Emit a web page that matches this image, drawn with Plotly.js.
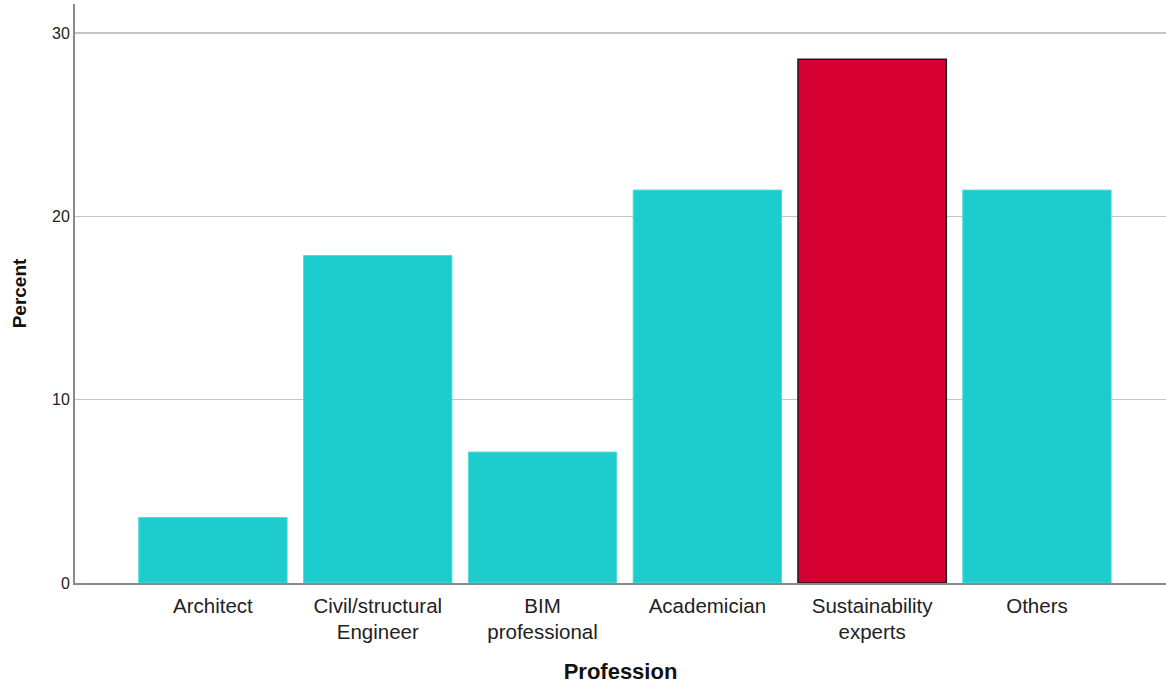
<!DOCTYPE html>
<html>
<head>
<meta charset="utf-8">
<script src="https://cdn.plot.ly/plotly-3.0.1.min.js"></script>
<style>html,body{margin:0;padding:0;background:#fff;}#chart{width:1166px;height:684px;}</style>
</head>
<body>
<div id="chart"></div>
<script>
const categories = ["Architect", "Civil/structural<br>Engineer", "BIM<br>professional", "Academician", "Sustainability<br>experts", "Others"];
const percents = [3.57, 17.86, 7.14, 21.43, 28.57, 21.43];
const barColors = ["#1DCDCD", "#1DCDCD", "#1DCDCD", "#1DCDCD", "#D70032", "#1DCDCD"];
const barEdges = ["#4FD9D9", "#4FD9D9", "#4FD9D9", "#4FD9D9", "#1a1a1a", "#4FD9D9"];
const barEdgeWidths = [1, 1, 1, 1, 1.5, 1];
const yTicks = [0, 10, 20, 30];

const trace = {
  type: "bar",
  x: categories.map((c, i) => i),
  y: percents,
  width: 0.9,
  marker: {color: barColors, line: {color: barEdges, width: barEdgeWidths}},
  hoverinfo: "skip"
};

const layout = {
  width: 1166, height: 684,
  margin: {l: 75, r: 0, t: 4, b: 101},
  paper_bgcolor: "#ffffff", plot_bgcolor: "#ffffff",
  font: {family: "Liberation Sans, Arial, sans-serif", color: "#222"},
  showlegend: false,
  bargap: 0.1,
  xaxis: {
    range: [-0.837, 5.783],
    tickmode: "array",
    tickvals: categories.map((c, i) => i),
    ticktext: categories,
    tickfont: {size: 20.5, color: "#222"},
    ticks: "",
    ticklabelstandoff: 3,
    showgrid: false,
    zeroline: false,
    showline: true, linecolor: "#8a8a8a", linewidth: 2,
    title: {text: "<b>Profession</b>", font: {size: 22, color: "#111"}, standoff: 24},
    fixedrange: true
  },
  yaxis: {
    range: [0, 31.58],
    tickmode: "array",
    tickvals: yTicks,
    ticktext: yTicks.map(String),
    tickfont: {size: 16, color: "#222"},
    ticks: "",
    showgrid: true, gridcolor: "#c4c4c4", gridwidth: 1.5,
    zeroline: false,
    showline: true, linecolor: "#8a8a8a", linewidth: 2,
    title: {text: "<b>Percent</b>", font: {size: 19, color: "#111"}, standoff: 20},
    fixedrange: true
  }
};

Plotly.newPlot("chart", [trace], layout, {displayModeBar: false, staticPlot: true});
</script>
</body>
</html>
